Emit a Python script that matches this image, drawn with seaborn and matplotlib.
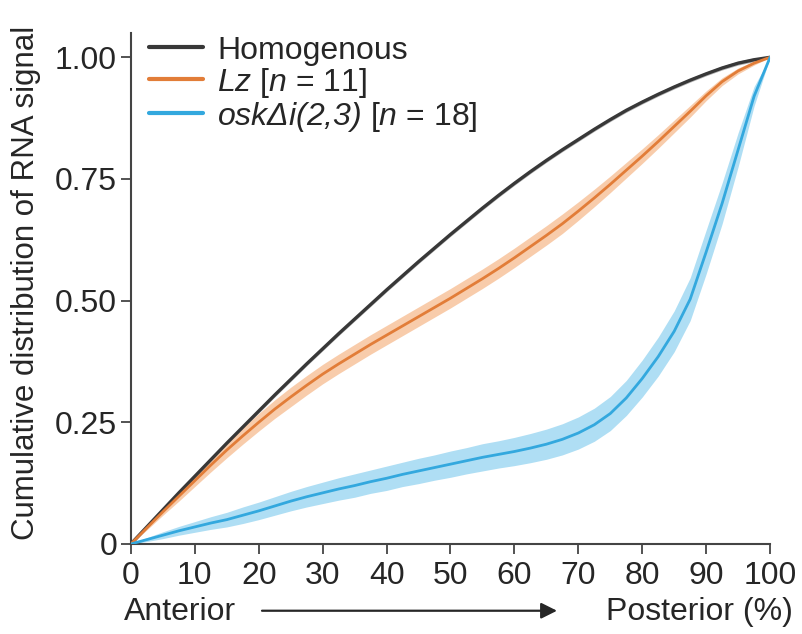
import numpy as np
import pandas as pd
import matplotlib
matplotlib.use("Agg")
import matplotlib.pyplot as plt
import seaborn as sns

# ---- data ----
position = [0, 2.5, 5, 7.5, 10, 12.5, 15, 17.5, 20, 22.5, 25, 27.5, 30, 32.5, 35, 37.5,
            40, 42.5, 45, 47.5, 50, 52.5, 55, 57.5, 60, 62.5, 65, 67.5, 70, 72.5, 75,
            77.5, 80, 82.5, 85, 87.5, 90, 92.5, 95, 97.5, 100]

homogenous = [0.000, 0.035, 0.070, 0.105, 0.139, 0.173, 0.207, 0.240, 0.273, 0.306,
              0.338, 0.370, 0.401, 0.432, 0.462, 0.492, 0.522, 0.551, 0.580, 0.608,
              0.636, 0.663, 0.690, 0.716, 0.741, 0.765, 0.788, 0.810, 0.831, 0.852,
              0.872, 0.891, 0.908, 0.924, 0.939, 0.953, 0.966, 0.978, 0.988, 0.995, 1.000]
homogenous_err = [0.0] + [0.004] * 39 + [0.0]

lz = [0.000, 0.033, 0.066, 0.098, 0.130, 0.162, 0.193, 0.222, 0.250, 0.277,
      0.302, 0.326, 0.349, 0.370, 0.390, 0.410, 0.429, 0.448, 0.467, 0.486,
      0.505, 0.525, 0.545, 0.566, 0.588, 0.611, 0.634, 0.658, 0.684, 0.711,
      0.739, 0.768, 0.797, 0.827, 0.858, 0.889, 0.921, 0.950, 0.972, 0.988, 1.000]
lz_err = [0.0, 0.004, 0.007, 0.010, 0.012, 0.014, 0.016, 0.017, 0.018, 0.019,
          0.020, 0.020, 0.020, 0.020, 0.020, 0.020, 0.020, 0.020, 0.020, 0.020,
          0.020, 0.020, 0.020, 0.020, 0.020, 0.020, 0.020, 0.020, 0.019, 0.018,
          0.017, 0.016, 0.015, 0.014, 0.013, 0.012, 0.010, 0.008, 0.006, 0.004, 0.0]

osk = [0.000, 0.009, 0.018, 0.027, 0.035, 0.043, 0.050, 0.059, 0.068, 0.078,
       0.088, 0.097, 0.105, 0.113, 0.120, 0.128, 0.135, 0.143, 0.150, 0.157,
       0.164, 0.171, 0.178, 0.184, 0.190, 0.197, 0.205, 0.215, 0.228, 0.245,
       0.268, 0.300, 0.340, 0.385, 0.437, 0.503, 0.600, 0.700, 0.810, 0.920, 1.000]
osk_err = [0.0, 0.004, 0.007, 0.009, 0.011, 0.013, 0.015, 0.017, 0.018, 0.019,
           0.020, 0.021, 0.022, 0.023, 0.024, 0.024, 0.025, 0.025, 0.026, 0.026,
           0.027, 0.027, 0.028, 0.028, 0.029, 0.030, 0.031, 0.032, 0.033, 0.034,
           0.035, 0.036, 0.038, 0.040, 0.042, 0.044, 0.045, 0.042, 0.035, 0.020, 0.0]

labels = ["Homogenous", r"$Lz$ [$n$ = 11]", r"$\mathsf{osk\Delta i(2{,}3)}$ [$n$ = 18]"]
line_colors = ["#383838", "#E27D38", "#33A8DE"]
band_colors = ["#ABABAB", "#F8C7A2", "#A6DBF3"]
line_widths = [2.4, 2.0, 2.0]

x_ticks = [0, 10, 20, 30, 40, 50, 60, 70, 80, 90, 100]
y_ticks = [0, 0.25, 0.5, 0.75, 1.0]
y_ticklabels = ["0", "0.25", "0.50", "0.75", "1.00"]

# ---- build table ----
series = [homogenous, lz, osk]
errs = [homogenous_err, lz_err, osk_err]
frames = []
for lab, vals, err in zip(labels, series, errs):
    frames.append(pd.DataFrame({"position": position, "value": vals, "err": err, "group": lab}))
df = pd.concat(frames, ignore_index=True)

# ---- style ----
sns.set_theme(style="ticks")
plt.rcParams["font.family"] = ["Liberation Sans", "DejaVu Sans"]
plt.rcParams["mathtext.fontset"] = "custom"
plt.rcParams["mathtext.rm"] = "Liberation Sans"
plt.rcParams["mathtext.it"] = "Liberation Sans:italic"
plt.rcParams["mathtext.sf"] = "Liberation Sans:italic"
plt.rcParams["mathtext.bf"] = "Liberation Sans:bold"

FS = 23
TXT = "#262626"

fig = plt.figure(figsize=(8.03, 6.34), dpi=100)
ax = fig.add_axes([0.163, 0.142, 0.796, 0.806])

# bands
for lab, bc in zip(labels, band_colors):
    sub = df[df["group"] == lab]
    ax.fill_between(sub["position"], sub["value"] - sub["err"], sub["value"] + sub["err"],
                    color=bc, linewidth=0, alpha=0.9, zorder=1)

sns.lineplot(data=df, x="position", y="value", hue="group", hue_order=labels,
             palette=dict(zip(labels, line_colors)), linewidth=2.0, ax=ax, zorder=3)
for ln, lw in zip(ax.get_lines()[:3], line_widths):
    ln.set_linewidth(lw)

ax.set_xlim(0, 100)
ax.set_ylim(0, 1.05)
ax.set_xticks(x_ticks)
ax.set_xticklabels([str(t) for t in x_ticks])
ax.set_yticks(y_ticks)
ax.set_yticklabels(y_ticklabels)
ax.tick_params(axis="both", labelsize=FS, length=7, width=1.3, color="#444444",
               labelcolor=TXT, direction="out")
ax.tick_params(axis="x", pad=5)
ax.tick_params(axis="y", pad=3)
for s in ["top", "right"]:
    ax.spines[s].set_visible(False)
for s in ["left", "bottom"]:
    ax.spines[s].set_linewidth(1.5)
    ax.spines[s].set_color("#444444")

ax.set_ylabel("Cumulative distribution of RNA signal", fontsize=22.5, color=TXT)
ax.yaxis.set_label_coords(-0.14, 0.51)
ax.set_xlabel("")

leg = ax.legend(loc="upper left", frameon=False, fontsize=23, handlelength=1.7,
                handletextpad=0.45, labelspacing=0.0, borderaxespad=0.0,
                borderpad=0.0, bbox_to_anchor=(0.028, 0.995))
for line in leg.get_lines():
    line.set_linewidth(3)
for t in leg.get_texts():
    t.set_color(TXT)

# x label with arrow
ypos = 1 - 612 / 634
fig.text(124 / 803, ypos, "Anterior", fontsize=FS, color=TXT, ha="left", va="center")
fig.text(793 / 803, ypos, "Posterior (%)", fontsize=FS, color=TXT, ha="right", va="center")
ax.annotate("", xy=(557 / 803, ypos + 0.002), xytext=(262 / 803, ypos + 0.002),
            xycoords="figure fraction", textcoords="figure fraction",
            arrowprops=dict(arrowstyle="-|>", color=TXT, lw=1.6,
                            mutation_scale=24, shrinkA=0, shrinkB=0))

fig.savefig("out.png", dpi=100)
